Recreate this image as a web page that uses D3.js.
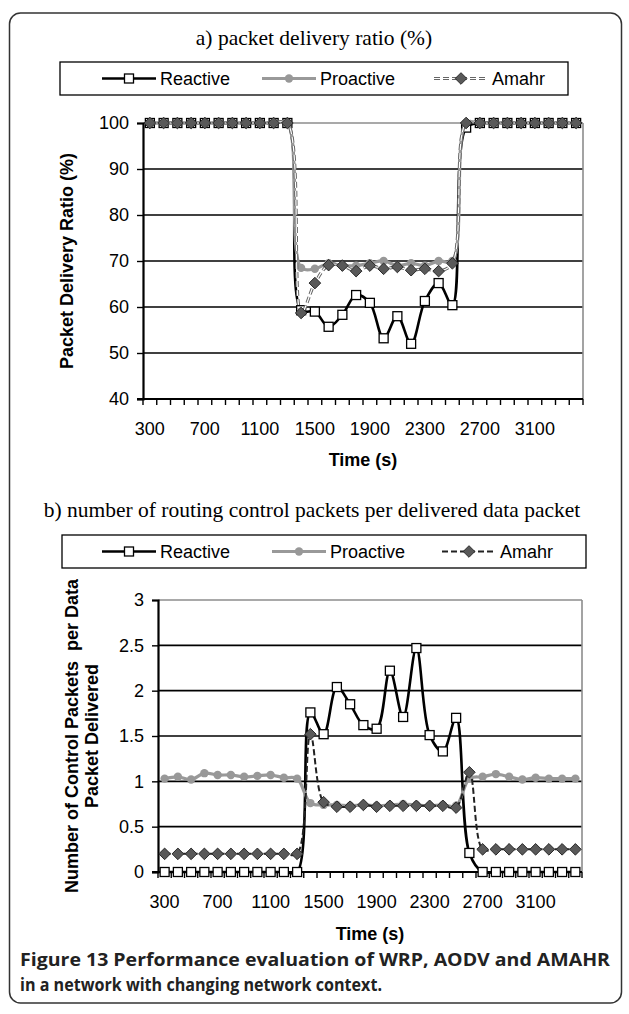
<!DOCTYPE html>
<html>
<head>
<meta charset="utf-8">
<script src="https://cdn.jsdelivr.net/npm/d3@7"></script>
<style>
  body { margin: 0; background: #fff; }
  svg { display: block; }
</style>
</head>
<body>
<script>
// categories (time in seconds)
var times = [300, 400, 500, 600, 700, 800, 900, 1000, 1100, 1200, 1300, 1400, 1500, 1600, 1700, 1800,
  1900, 2000, 2100, 2200, 2300, 2400, 2500, 2600, 2700, 2800, 2900, 3000, 3100, 3200, 3300, 3400];
var tickLabels = [300, 700, 1100, 1500, 1900, 2300, 2700, 3100];

// a) packet delivery ratio (%)
var reactiveA = [100, 100, 100, 100, 100, 100, 100, 100, 100, 100, 100,
  59.3, 59, 55.7, 58.3, 62.6, 60.9, 53.2, 58, 52, 61.3, 65.2, 60.4,
  99, 100, 100, 100, 100, 100, 100, 100, 100];
var proactiveA = [100, 100, 100, 100, 100, 100, 100, 100, 100, 100, 100,
  68.5, 68.3, 69.5, 69, 69, 69.5, 70, 69, 69.5, 69, 70, 70,
  100, 100, 100, 100, 100, 100, 100, 100, 100];
var amahrA = [100, 100, 100, 100, 100, 100, 100, 100, 100, 100, 100,
  58.7, 65.2, 69.1, 69, 67.8, 69, 68.3, 68.7, 68, 68.3, 67.8, 69.5,
  100, 100, 100, 100, 100, 100, 100, 100, 100];
var ticksA = [40, 50, 60, 70, 80, 90, 100];

// b) control packets per delivered data packet
var reactiveB = [0, 0, 0, 0, 0, 0, 0, 0, 0, 0, 0,
  1.76, 1.52, 2.04, 1.85, 1.62, 1.58, 2.22, 1.71, 2.47, 1.51, 1.33, 1.7,
  0.21, 0, 0, 0, 0, 0, 0, 0, 0];
var proactiveB = [1.03, 1.05, 1.02, 1.09, 1.07, 1.07, 1.05, 1.06, 1.07, 1.04, 1.03,
  0.76, 0.74, 0.74, 0.73, 0.74, 0.73, 0.74, 0.75, 0.74, 0.73, 0.74, 0.73,
  1.03, 1.05, 1.08, 1.05, 1.02, 1.04, 1.03, 1.03, 1.03];
var amahrB = [0.2, 0.2, 0.2, 0.2, 0.2, 0.2, 0.2, 0.2, 0.2, 0.2, 0.2,
  1.52, 0.77, 0.72, 0.72, 0.74, 0.72, 0.73, 0.73, 0.73, 0.73, 0.73, 0.71,
  1.1, 0.25, 0.25, 0.25, 0.25, 0.25, 0.25, 0.25, 0.25];
var ticksB = [0, 0.5, 1, 1.5, 2, 2.5, 3];

var seriesNames = ['Reactive', 'Proactive', 'Amahr'];

var W = 629, H = 1014;
var sans = "'Liberation Sans', Arial, sans-serif";
var serif = "'Liberation Serif', 'Times New Roman', serif";

var svg = d3.select('body').append('svg')
  .attr('width', W)
  .attr('height', H);

// outer frame
svg.append('rect')
  .attr('x', 9.5).attr('y', 13)
  .attr('width', 612).attr('height', 990)
  .attr('rx', 11)
  .attr('fill', 'none')
  .attr('stroke', '#333')
  .attr('stroke-width', 1.5);

function drawMarker(g, type, x, y) {
  if (type === 'Reactive') {
    g.append('rect')
      .attr('x', x - 4.5).attr('y', y - 4.5)
      .attr('width', 9).attr('height', 9)
      .attr('fill', '#fff')
      .attr('stroke', '#000')
      .attr('stroke-width', 1.3);
  } else if (type === 'Proactive') {
    g.append('circle')
      .attr('cx', x).attr('cy', y).attr('r', 4.2)
      .attr('fill', '#989898');
  } else {
    g.append('path')
      .attr('d', 'M0,-5.8L5.8,0L0,5.8L-5.8,0Z')
      .attr('transform', 'translate(' + x + ',' + y + ')')
      .attr('fill', '#595959')
      .attr('stroke', '#2a2a2a')
      .attr('stroke-width', 1);
  }
}

function styleLine(sel, name, dashedLight) {
  if (name === 'Reactive') {
    sel.attr('stroke', '#000').attr('stroke-width', 2.6);
  } else if (name === 'Proactive') {
    sel.attr('stroke', '#999').attr('stroke-width', 3.2);
  } else {
    sel.attr('stroke', dashedLight ? '#666' : '#222')
      .attr('stroke-width', dashedLight ? 3.2 : 2)
      .attr('stroke-dasharray', '6,3');
  }
}

function drawChart(cfg) {
  var g = svg.append('g');

  var x = d3.scaleBand()
    .domain(times)
    .range([cfg.left, cfg.right]);
  var y = d3.scaleLinear()
    .domain([cfg.ticks[0], cfg.ticks[cfg.ticks.length - 1]])
    .range([cfg.bottom, cfg.top]);

  // title
  g.append('text')
    .attr('x', cfg.titleX)
    .attr('y', cfg.titleY)
    .attr('text-anchor', 'middle')
    .attr('font-family', serif)
    .attr('font-size', 21.5)
    .attr('fill', '#000')
    .text(cfg.title);

  // legend box
  var lg = g.append('g');
  lg.append('rect')
    .attr('x', cfg.legend.x).attr('y', cfg.legend.y)
    .attr('width', cfg.legend.w).attr('height', cfg.legend.h)
    .attr('fill', '#fff')
    .attr('stroke', '#000')
    .attr('stroke-width', 1.3);
  var ly = cfg.legend.y + cfg.legend.h / 2;
  seriesNames.forEach(function(name, i) {
    var x0 = cfg.legend.items[i];
    var seg = lg.append('line')
      .attr('x1', x0).attr('x2', x0 + 54)
      .attr('y1', ly).attr('y2', ly);
    styleLine(seg, name, cfg.dashedLight);
    if (name === 'Amahr' && cfg.dashedLight) {
      lg.append('line')
        .attr('x1', x0).attr('x2', x0 + 54)
        .attr('y1', ly).attr('y2', ly)
        .attr('stroke', '#fff').attr('stroke-width', 1.2)
        .attr('stroke-dasharray', '6,3');
    }
    drawMarker(lg, name, x0 + 27, ly);
    lg.append('text')
      .attr('x', x0 + 58)
      .attr('y', ly)
      .attr('dy', '0.36em')
      .attr('font-family', sans)
      .attr('font-size', 18)
      .text(name);
  });

  // gridlines
  g.append('g')
    .selectAll('line')
    .data(cfg.ticks.slice(1))
    .join('line')
    .attr('x1', cfg.left).attr('x2', cfg.right)
    .attr('y1', function(d) { return y(d); })
    .attr('y2', function(d) { return y(d); })
    .attr('stroke', function(d, i) { return i === cfg.ticks.length - 2 ? '#8c8c8c' : '#000'; })
    .attr('stroke-width', 1.6);

  // right border of plot area
  g.append('line')
    .attr('x1', cfg.right).attr('x2', cfg.right)
    .attr('y1', cfg.top).attr('y2', cfg.bottom)
    .attr('stroke', '#8c8c8c')
    .attr('stroke-width', 1.6);

  // y axis
  var yAxis = g.append('g')
    .attr('transform', 'translate(' + cfg.left + ',0)')
    .call(d3.axisLeft(y).tickValues(cfg.ticks).tickSize(6).tickPadding(8)
      .tickFormat(function(d) { return d; }));
  yAxis.select('.domain').attr('stroke-width', 2.2).attr('stroke', '#000');
  yAxis.selectAll('.tick line').attr('stroke-width', 1.4);
  yAxis.selectAll('text')
    .attr('font-family', sans)
    .attr('font-size', 18)
    .attr('fill', '#000');

  // x axis: ticks at category boundaries, labels every 4th category
  var xAxis = g.append('g')
    .attr('transform', 'translate(0,' + cfg.bottom + ')');
  xAxis.append('line')
    .attr('x1', cfg.left - 6).attr('x2', cfg.right)
    .attr('stroke', '#000')
    .attr('stroke-width', 2.2);
  var bounds = times.map(function(t) { return x(t); }).concat([x.range()[1]]);
  xAxis.selectAll('line.tk')
    .data(bounds)
    .join('line')
    .attr('class', 'tk')
    .attr('x1', function(d) { return d; })
    .attr('x2', function(d) { return d; })
    .attr('y1', 0).attr('y2', 6)
    .attr('stroke', '#000')
    .attr('stroke-width', 1.4);
  xAxis.selectAll('text')
    .data(tickLabels)
    .join('text')
    .attr('x', function(d) { return x(d) + x.bandwidth() / 2; })
    .attr('y', cfg.tickLabelY - cfg.bottom)
    .attr('dy', '0.36em')
    .attr('text-anchor', 'middle')
    .attr('font-family', sans)
    .attr('font-size', 18)
    .text(function(d) { return d; });

  // axis titles
  g.append('text')
    .attr('x', (cfg.left + cfg.right) / 2)
    .attr('y', cfg.xTitleY)
    .attr('dy', '0.36em')
    .attr('text-anchor', 'middle')
    .attr('font-family', sans)
    .attr('font-size', 18)
    .attr('font-weight', 'bold')
    .text('Time (s)');

  cfg.yTitle.forEach(function(line, i) {
    var cx = cfg.yTitleX[i], cy = (cfg.top + cfg.bottom) / 2 + cfg.yTitleShift;
    g.append('text')
      .attr('transform', 'translate(' + cx + ',' + cy + ') rotate(-90)')
      .attr('dy', '0.36em')
      .attr('text-anchor', 'middle')
      .attr('font-family', sans)
      .attr('font-size', 18)
      .attr('font-weight', 'bold')
      .style('white-space', 'pre')
      .text(line);
  });

  // series
  var cx = function(d, i) { return x(times[i]) + x.bandwidth() / 2; };
  var line = d3.line()
    .x(cx)
    .y(function(d) { return y(d); })
    .curve(d3.curveCatmullRom.alpha(0.5));

  cfg.series.forEach(function(vals, k) {
    var name = seriesNames[k];
    var p = g.append('path')
      .datum(vals)
      .attr('fill', 'none')
      .attr('d', line);
    styleLine(p, name, cfg.dashedLight);
    if (name === 'Amahr' && cfg.dashedLight) {
      g.append('path')
        .datum(vals)
        .attr('fill', 'none')
        .attr('d', line)
        .attr('stroke', '#fff')
        .attr('stroke-width', 1.2)
        .attr('stroke-dasharray', '6,3');
    }
    var mg = g.append('g');
    vals.forEach(function(v, i) {
      drawMarker(mg, name, cx(v, i), y(v));
    });
  });
}

drawChart({
  title: 'a) packet delivery ratio (%)',
  titleX: 314, titleY: 45,
  legend: { x: 60, y: 62, w: 508, h: 33, items: [102, 262, 434] },
  left: 143, right: 583, top: 123, bottom: 399,
  ticks: ticksA,
  tickLabelY: 429,
  xTitleY: 460,
  yTitle: ['Packet Delivery Ratio (%)'],
  yTitleX: [67],
  yTitleShift: 0,
  dashedLight: true,
  series: [reactiveA, proactiveA, amahrA]
});

drawChart({
  title: 'b) number of routing control packets per delivered data packet',
  titleX: 312, titleY: 517,
  legend: { x: 62, y: 535, w: 524, h: 33, items: [102, 272, 442] },
  left: 158, right: 582, top: 600, bottom: 872,
  ticks: ticksB,
  tickLabelY: 902,
  xTitleY: 934,
  yTitle: ['Number of Control Packets  per Data', 'Packet Delivered'],
  yTitleX: [72, 92],
  yTitleShift: 0,
  dashedLight: false,
  series: [reactiveB, proactiveB, amahrB]
});

// caption
var capFont = "'Open Sans', 'Noto Sans', sans-serif";
svg.append('text')
  .attr('x', 20).attr('y', 966)
  .attr('font-family', capFont)
  .attr('font-size', 18)
  .attr('font-weight', 'bold')
  .attr('fill', '#222')
  .attr('textLength', 590)
  .attr('lengthAdjust', 'spacingAndGlyphs')
  .text('Figure 13 Performance evaluation of WRP, AODV and AMAHR');
svg.append('text')
  .attr('x', 20).attr('y', 991)
  .attr('font-family', capFont)
  .attr('font-size', 17)
  .attr('font-weight', 'bold')
  .attr('fill', '#222')
  .attr('textLength', 362)
  .attr('lengthAdjust', 'spacingAndGlyphs')
  .text('in a network with changing network context.');
</script>
</body>
</html>
